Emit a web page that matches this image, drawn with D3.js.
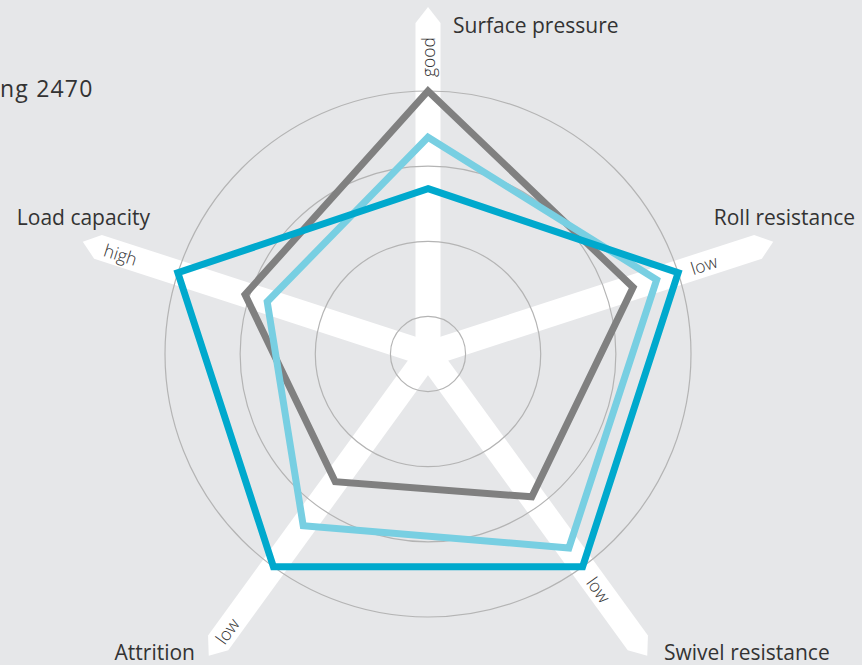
<!DOCTYPE html>
<html><head><meta charset="utf-8">
<script src="https://cdn.jsdelivr.net/npm/d3@7"></script>
<style>
html,body{margin:0;padding:0;background:#e6e7e9;overflow:hidden;}
text{font-family:"Open Sans","Noto Sans",sans-serif;fill:#333;}
</style></head>
<body>
<svg id="chart" width="862" height="665"></svg>
<script>
// ---- data ----
const axes = ["Surface pressure", "Roll resistance", "Swivel resistance", "Attrition", "Load capacity"];
const axisHints = ["good", "low", "low", "low", "high"];
const ringValues = [1, 3, 5, 7];
const maxValue = 7;
const seriesDark  = [4.4, 7.0, 7.0, 7.0, 7.0];
const seriesLight = [5.77, 6.4, 6.38, 5.65, 4.5];
const seriesGray  = [7.0, 5.74, 4.7, 4.2, 5.12];
const titleText = "ng 2470";

// ---- styling / layout ----
const cx = 428, cy = 354, R = 263;
const arrowLen = [347, 363, 373, 373, 363];
const hintDist = [297, 290, 291, 342, 323];
const series = [
  {values: seriesGray,  color: "#808080"},
  {values: seriesLight, color: "#78cfe2"},
  {values: seriesDark,  color: "#00a9cd"}
];

const svg = d3.select("#chart");
const g = svg.append("g").attr("transform", `translate(${cx},${cy})`);
const r = d3.scaleLinear().domain([0, maxValue]).range([0, R]);
const ang = d3.scaleLinear().domain([0, axes.length]).range([0, 2 * Math.PI]);

// axis arrows (white bars)
const hw = 12.5, tip = 16;
axes.forEach((a, i) => {
  const deg = ang(i) * 180 / Math.PI - 90;
  const L = arrowLen[i];
  const pts = [[0, -hw], [L - tip, -hw], [L, 0], [L - tip, hw], [0, hw]];
  g.append("polygon")
    .attr("points", pts.map(p => p.join(",")).join(" "))
    .attr("fill", "#fff")
    .attr("transform", `rotate(${deg})`);
});

// rings
g.selectAll("circle.ring").data(ringValues).join("circle")
  .attr("class", "ring")
  .attr("r", d => r(d))
  .attr("fill", "none")
  .attr("stroke", "#b4b4b4")
  .attr("stroke-width", 1.2);

// series polygons
const line = d3.lineRadial()
  .angle((d, i) => ang(i))
  .radius(d => r(d))
  .curve(d3.curveLinearClosed);
series.forEach(s => {
  g.append("path")
    .attr("d", line(s.values))
    .attr("fill", "none")
    .attr("stroke", s.color)
    .attr("stroke-width", 7)
    .attr("stroke-linejoin", "miter")
    .attr("stroke-miterlimit", 10);
});

// hint labels along axes
axisHints.forEach((h, i) => {
  const a = ang(i);
  const x = Math.sin(a) * hintDist[i], y = -Math.cos(a) * hintDist[i];
  let deg = a * 180 / Math.PI - 90;
  if (deg > 90) deg -= 180;
  g.append("text")
    .attr("transform", `translate(${x},${y}) rotate(${deg})`)
    .attr("text-anchor", "middle")
    .attr("dominant-baseline", "central")
    .attr("font-size", 17.5)
    .attr("font-weight", 300)
    .text(h);
});

// axis titles
const titlePos = [
  {x: 453, y: 33, anchor: "start"},
  {x: 855, y: 225, anchor: "end"},
  {x: 664, y: 660, anchor: "start"},
  {x: 195, y: 660, anchor: "end"},
  {x: 150, y: 225, anchor: "end"}
];
axes.forEach((a, i) => {
  svg.append("text")
    .attr("x", titlePos[i].x).attr("y", titlePos[i].y)
    .attr("text-anchor", titlePos[i].anchor)
    .attr("font-size", 21)
    .text(a);
});

svg.append("text").attr("x", 0).attr("y", 97)
  .attr("font-size", 23)
  .attr("letter-spacing", 1.2)
  .text(titleText);
</script>
</body></html>
